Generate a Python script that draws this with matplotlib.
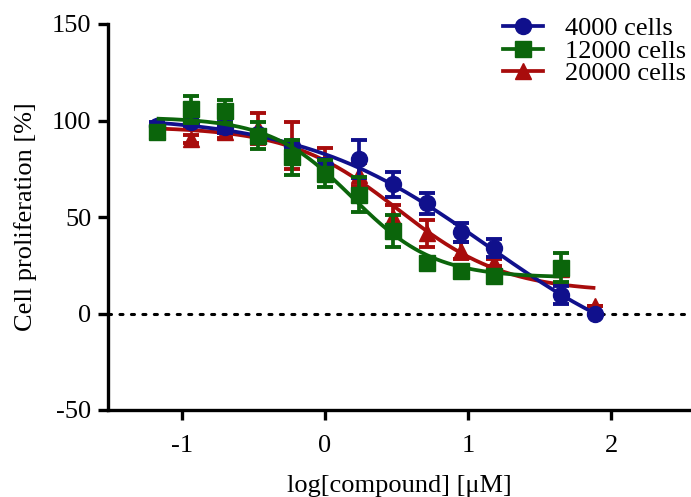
import numpy as np
import matplotlib
matplotlib.use("Agg")
import matplotlib.pyplot as plt
from matplotlib.lines import Line2D

plt.rcParams["font.family"] = ["Liberation Serif", "DejaVu Serif"]
plt.rcParams["axes.unicode_minus"] = False

# log10 of compound concentration (uM)
log_conc = [-1.175, -0.937, -0.700, -0.466, -0.232, 0.0, 0.238, 0.477,
            0.714, 0.949, 1.181, 1.652, 1.889]

# mean cell proliferation [%] and error per seeding density
prolif_4000 = [97.0, 99.0, 96.4, 93.0, 87.0, 77.0, 80.0, 67.0, 57.0, 42.0, 34.0, 9.5, 0.0]
err_4000 = [2.0, 2.0, 3.0, 2.0, 2.0, 3.0, 10.0, 6.5, 5.5, 5.0, 4.5, 4.5, 0.0]

prolif_12000 = [94.0, 105.7, 104.7, 92.0, 81.0, 72.5, 61.6, 42.7, 26.3, 22.0, 19.3, 23.8]
err_12000 = [2.0, 7.0, 6.0, 7.0, 9.0, 7.0, 9.0, 8.5, 2.0, 2.0, 2.0, 7.5]

prolif_20000 = [95.0, 90.5, 94.0, 96.0, 87.0, 79.0, 72.0, 50.0, 41.5, 32.6, 26.4, 23.0, 4.0]
err_20000 = [2.0, 2.0, 3.0, 8.0, 12.0, 7.0, 6.0, 6.0, 7.0, 4.5, 2.0, 3.0, 0.0]

labels = ["4000 cells", "12000 cells", "20000 cells"]
colors = ["#10108c", "#0b650b", "#a80c0c"]
markers = ["o", "s", "^"]


def four_pl(x, top, bottom, log_ic50, hill):
    return bottom + (top - bottom) / (1.0 + 10.0 ** ((x - log_ic50) * hill))


def fit_four_pl(x, y):
    """Least-squares 4-parameter logistic fit (Levenberg-Marquardt)."""
    x = np.asarray(x, float)
    y = np.asarray(y, float)
    p = np.array([y.max(), y.min(), np.median(x), 1.0])

    def cost(q):
        return np.sum((y - four_pl(x, *q)) ** 2)

    c = cost(p)
    lam = 1e-2
    for _ in range(3000):
        r = y - four_pl(x, *p)
        J = np.empty((x.size, 4))
        for j in range(4):
            h = 1e-6 * max(1.0, abs(p[j]))
            dp = np.zeros(4)
            dp[j] = h
            J[:, j] = (four_pl(x, *(p + dp)) - four_pl(x, *(p - dp))) / (2 * h)
        A = J.T @ J
        g = J.T @ r
        step = np.linalg.solve(A + lam * np.diag(np.diag(A)) + 1e-12 * np.eye(4), g)
        p_new = p + step
        c_new = cost(p_new)
        if np.isfinite(c_new) and c_new < c:
            p, c = p_new, c_new
            lam = max(lam / 3.0, 1e-10)
        else:
            lam *= 4.0
            if lam > 1e10:
                break
    return p


W, H = 691, 497
fig = plt.figure(figsize=(W / 100, H / 100), dpi=100)
ax = fig.add_axes([108 / W, 1 - 410 / H, (690 - 108) / W, (410 - 24) / H])

series = [
    (prolif_4000, err_4000),
    (prolif_12000, err_12000),
    (prolif_20000, err_20000),
]
z_order = [3, 4, 2]

for (vals, errs), color, marker, z in zip(series, colors, markers, z_order):
    xs = np.array(log_conc[: len(vals)])
    params = fit_four_pl(xs, vals)
    xx = np.linspace(xs.min(), xs.max(), 300)
    ax.plot(xx, four_pl(xx, *params), color=color, lw=2.7, zorder=z,
            solid_capstyle="butt")
    ax.errorbar(xs, vals, yerr=errs, fmt=marker, color=color, ms=11.5,
                mec=color, elinewidth=2.7, capsize=5.8, capthick=2.8,
                zorder=z)

# zero reference line
ax.axhline(0, color="black", lw=2.2, linestyle=(0, (1, 2.75)),
           dash_capstyle="round", zorder=1)

ax.set_xlim(-1.515, 2.55)
ax.set_ylim(-50, 150)
ax.set_xticks([-1, 0, 1, 2])
ax.set_yticks([-50, 0, 50, 100, 150])

for side in ("top", "right"):
    ax.spines[side].set_visible(False)
for side in ("left", "bottom"):
    ax.spines[side].set_linewidth(2.4)
    ax.spines[side].set_capstyle("projecting")

ax.tick_params(direction="out", length=7, width=2.4, labelsize=19, pad=5)
ax.tick_params(axis="x", pad=11)

ax.set_xlabel("log[compound] [\u03bcM]", fontsize=19, labelpad=13)
ax.set_ylabel("Cell proliferation [%]", fontsize=19, labelpad=11)

handles = [Line2D([], [], color=c, marker=m, ms=11.5, lw=2.7)
           for c, m in zip(colors, markers)]
fig.legend(handles, labels, loc="upper left",
           bbox_to_anchor=(503 / W, 1 - 17 / H), frameon=False,
           fontsize=19, handlelength=1.5, handletextpad=0.85,
           labelspacing=-0.04, borderpad=0, borderaxespad=0)

fig.savefig("out.png", dpi=100)
